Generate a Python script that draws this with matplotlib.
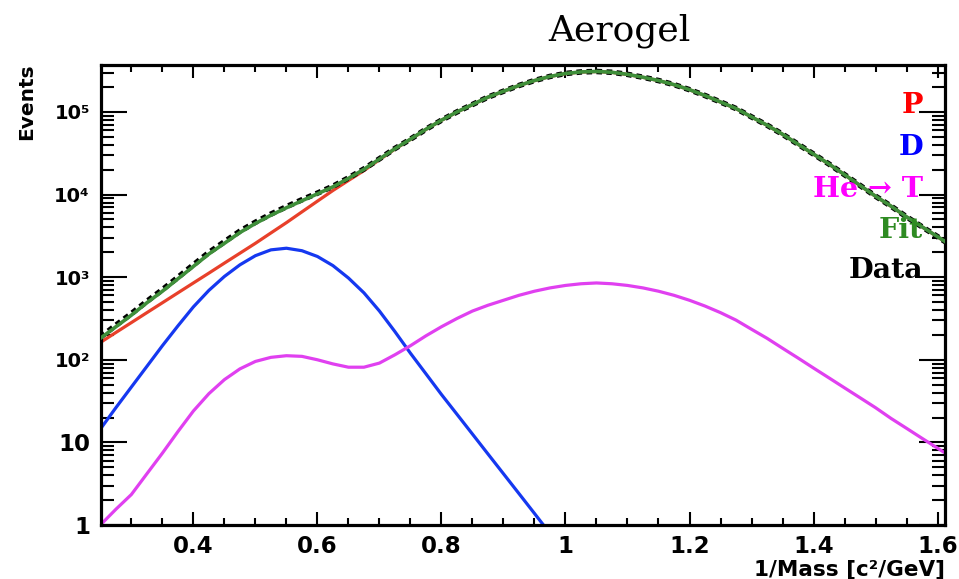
import numpy as np
import matplotlib
matplotlib.use("Agg")
import matplotlib.pyplot as plt
from matplotlib.ticker import FixedLocator, FixedFormatter, LogLocator, MultipleLocator, NullFormatter

# 1/mass bin centres [c^2/GeV]
inv_mass = [0.25, 0.275, 0.30, 0.325, 0.35, 0.375, 0.40, 0.425, 0.45, 0.475,
            0.50, 0.525, 0.55, 0.575, 0.60, 0.625, 0.65, 0.675, 0.70, 0.725,
            0.75, 0.775, 0.80, 0.825, 0.85, 0.875, 0.90, 0.925, 0.95, 0.975,
            1.00, 1.025, 1.05, 1.075, 1.10, 1.125, 1.15, 1.175, 1.20, 1.225,
            1.25, 1.275, 1.30, 1.325, 1.35, 1.375, 1.40, 1.425, 1.45, 1.475,
            1.50, 1.525, 1.55, 1.575, 1.60, 1.625]

# measured events
data = [188, 262, 362, 510, 705, 995, 1410, 1990, 2680, 3600,
        4620, 5800, 7120, 8650, 10400, 12600, 15900, 20400, 27100, 36100,
        46800, 61700, 79400, 100000, 123000, 151000, 178000, 209000, 240000, 269000,
        292000, 305000, 309000, 302000, 285000, 263000, 240000, 214000, 186000, 158000,
        132000, 110000, 87100, 69200, 53700, 40700, 30900, 23400, 17400, 12900,
        9550, 7240, 5370, 4070, 3090, 2340]

# total fit
fit = [182, 251, 347, 490, 676, 955, 1350, 1910, 2570, 3470,
       4470, 5620, 6920, 8410, 10200, 12400, 15700, 20200, 26900, 35900,
       46800, 61700, 79400, 100000, 123000, 151000, 178000, 209000, 240000, 269000,
       292000, 305000, 309000, 302000, 285000, 263000, 240000, 214000, 186000, 158000,
       132000, 110000, 87100, 69200, 53700, 40700, 30900, 23400, 17400, 12900,
       9550, 7240, 5370, 4070, 3090, 2340]

# proton component
proton = [162, 214, 282, 372, 490, 646, 851, 1120, 1480, 1950,
          2570, 3430, 4570, 6170, 8320, 11200, 14800, 19500, 26400, 35500,
          46500, 61400, 79100, 99700, 122600, 150500, 177500, 208400, 239300, 268300,
          291200, 304200, 308100, 301200, 284200, 262300, 239300, 213400, 185500, 157600,
          131600, 109700, 86900, 69000, 53600, 40600, 30800, 23300, 17350, 12870,
          9520, 7220, 5355, 4060, 3080, 2330]

# deuteron component (falls below 1 after ~0.96)
deuteron = [14.5, 26.3, 46.8, 83.2, 148, 257, 437, 692, 1020, 1410,
            1820, 2140, 2240, 2090, 1780, 1380, 977, 646, 389, 219,
            120, 67.6, 38.0, 21.9, 12.6, 7.24, 4.17, 2.40, 1.38, 0.79]

# He -> T component
helium = [1.00, 1.55, 2.34, 4.17, 7.41, 13.5, 24.0, 38.9, 57.5, 77.6,
          95.5, 107, 112, 110, 100, 89.1, 81.3, 81.3, 91.2, 115,
          148, 195, 251, 316, 389, 457, 525, 603, 676, 741,
          794, 832, 851, 832, 794, 741, 676, 603, 525, 447,
          372, 302, 234, 182, 138, 105, 79.4, 60.3, 45.7, 34.7,
          26.3, 19.5, 14.8, 11.2, 8.51, 6.46]

y_ticks = [1, 10, 100, 1e3, 1e4, 1e5]
y_labels = ["1", "10", "10²", "10³", "10⁴", "10⁵"]
x_ticks = [0.4, 0.6, 0.8, 1.0, 1.2, 1.4, 1.6]
x_labels = ["0.4", "0.6", "0.8", "1", "1.2", "1.4", "1.6"]

fig = plt.figure(figsize=(9.59, 5.79), dpi=100)
ax = fig.add_axes([101 / 959, 1 - 525 / 579, 844 / 959, 460 / 579])

ax.plot(inv_mass, proton, color="#e8402a", lw=2.3, zorder=2)
ax.plot(inv_mass[:len(deuteron)], deuteron, color="#1538f0", lw=2.3, zorder=2)
ax.plot(inv_mass, helium, color="#e040f0", lw=2.3, zorder=2)
ax.plot(inv_mass, data, color="black", lw=4, dashes=(1.0, 0.8), zorder=3)
ax.plot(inv_mass, fit, color="#3f8f3a", lw=2.6, zorder=4)

ax.set_yscale("log")
ax.set_xlim(0.251, 1.612)
ax.set_ylim(1, 3.7e5)

ax.xaxis.set_major_locator(FixedLocator(x_ticks))
ax.xaxis.set_major_formatter(FixedFormatter(x_labels))
ax.xaxis.set_minor_locator(MultipleLocator(0.05))
ax.yaxis.set_major_locator(FixedLocator(y_ticks))
ax.yaxis.set_major_formatter(FixedFormatter(y_labels))
ax.yaxis.set_minor_locator(LogLocator(base=10, subs=range(2, 10), numticks=20))
ax.yaxis.set_minor_formatter(NullFormatter())

ax.tick_params(which="both", direction="in", top=True, right=True, width=1.5)
ax.tick_params(axis="x", which="major", length=9.5, pad=7)
ax.tick_params(axis="x", which="minor", length=5)
ax.tick_params(axis="y", which="major", length=19, pad=8)
ax.tick_params(axis="y", which="minor", length=9.5)
for lbl in ax.get_xticklabels() + ax.get_yticklabels():
    lbl.set_family("DejaVu Sans")
    lbl.set_weight("bold")
    lbl.set_fontsize(16.5)
for lbl in ax.get_yticklabels()[2:]:
    lbl.set_fontsize(14)
for sp in ax.spines.values():
    sp.set_linewidth(2.3)

# axis titles
fig.text(27 / 959, 1 - 63 / 579, "Events", rotation=90, ha="center", va="top",
         fontsize=14.5, weight="bold", family="DejaVu Sans")
fig.text(945 / 959, 1 - 575 / 579, "1/Mass [c²/GeV]", ha="right", va="baseline",
         fontsize=15.5, weight="bold", family="DejaVu Sans")
fig.text(619 / 959, 1 - 40 / 579, "Aerogel", ha="center", va="baseline",
         fontsize=26, family="DejaVu Serif")

# legend entries
legend = [("P", "#ff0000", 113), ("D", "#0000ff", 155), ("He → T", "#ff00ff", 197),
          ("Fit", "#2e8b22", 238), ("Data", "black", 278)]
for txt, col, ypix in legend:
    fig.text(923 / 959, 1 - ypix / 579, txt, ha="right", va="baseline", color=col,
             fontsize=20.5, weight="bold", family="DejaVu Serif", zorder=5)

fig.savefig("out.png", dpi=100)
